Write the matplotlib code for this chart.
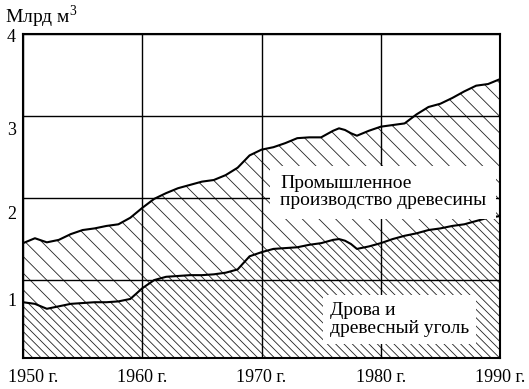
import matplotlib
matplotlib.use("Agg")
import matplotlib.pyplot as plt
import matplotlib.transforms as mtransforms

# world roundwood production, billion m3
years = [1950, 1951, 1952, 1953, 1954, 1955, 1956, 1957, 1958, 1959,
         1960, 1961, 1962, 1963, 1964, 1965, 1966, 1967, 1968, 1969,
         1970, 1971, 1972, 1973, 1974, 1975, 1976, 1976.5, 1977, 1977.5,
         1978, 1979, 1980, 1981, 1982, 1983, 1984, 1985, 1986, 1987,
         1988, 1989, 1990]
total = [1.45, 1.51, 1.46, 1.49, 1.56, 1.61, 1.63, 1.66, 1.68, 1.76,
         1.88, 1.99, 2.06, 2.12, 2.16, 2.20, 2.22, 2.28, 2.37, 2.52,
         2.59, 2.62, 2.67, 2.73, 2.74, 2.74, 2.82, 2.85, 2.83, 2.79,
         2.76, 2.82, 2.87, 2.89, 2.91, 3.02, 3.11, 3.15, 3.22, 3.30,
         3.37, 3.39, 3.45]
fuelwood = [0.73, 0.71, 0.65, 0.68, 0.71, 0.72, 0.73, 0.73, 0.74, 0.77,
            0.90, 1.00, 1.04, 1.05, 1.06, 1.06, 1.07, 1.09, 1.13, 1.29,
            1.34, 1.38, 1.39, 1.40, 1.43, 1.45, 1.49, 1.50, 1.48, 1.44,
            1.38, 1.41, 1.45, 1.50, 1.54, 1.57, 1.61, 1.63, 1.66, 1.68,
            1.72, 1.76, 1.78]

x_ticks = [1950, 1960, 1970, 1980, 1990]
x_labels = ["1950 г.", "1960 г.", "1970 г.", "1980 г.", "1990 г."]
y_grid = [1, 2, 3, 4]
y_label_pos = [0.76, 1.82, 2.85, 3.98]   # printed labels sit below the grid lines
y_labels = ["1", "2", "3", "4"]

plt.rcParams["font.family"] = "Liberation Serif"
plt.rcParams["mathtext.fontset"] = "custom"
plt.rcParams["mathtext.rm"] = "Liberation Serif"
plt.rcParams["hatch.linewidth"] = 0.6
plt.rcParams["hatch.color"] = "black"

fig = plt.figure(figsize=(5.29, 3.89), dpi=100)
ax = fig.add_axes([23 / 529, 31 / 389, 477 / 529, 324 / 389])

ax.fill_between(years, 0, fuelwood, facecolor="white", edgecolor="#222222",
                hatch="\\\\\\\\", linewidth=0)
ax.fill_between(years, fuelwood, total, facecolor="white", edgecolor="#222222",
                hatch="\\\\", linewidth=0)
ax.plot(years, total, color="black", lw=1.5)
ax.plot(years, fuelwood, color="black", lw=1.5)

ax.set_xlim(1950, 1990)
ax.set_ylim(0.05, 4)
ax.set_xticks(x_ticks)
ax.set_xticklabels(x_labels, fontsize=13)
ax.set_yticks(y_grid)
ax.set_yticklabels([])
ax.set_yticks(y_label_pos, minor=True)
ax.set_yticklabels(y_labels, minor=True, fontsize=13)
ax.tick_params(axis="both", which="both", length=0)
ax.tick_params(axis="x", pad=8)
ax.tick_params(axis="y", which="minor", pad=5)
ax.grid(True, which="major", color="black", lw=1.0)
for s in ax.spines.values():
    s.set_linewidth(1.5)

# first year label does not fit centred under the frame
first = ax.get_xticklabels()[0]
first.set_horizontalalignment("left")
first.set_transform(first.get_transform() +
                    mtransforms.ScaledTranslation(-15 / 100, 0, fig.dpi_scale_trans))

ax.text(1971.55, 2.07, "Промышленное\nпроизводство древесины", fontsize=14,
        ha="left", va="center", linespacing=1.0, zorder=5,
        bbox=dict(facecolor="white", edgecolor="none", pad=7))
ax.text(1975.75, 0.52, "Дрова и\nдревесный уголь", fontsize=14,
        ha="left", va="center", linespacing=1.05, zorder=5,
        bbox=dict(facecolor="white", edgecolor="none", pad=5))

fig.text(5 / 529, 1 - 17 / 389, "Млрд м$^3$", fontsize=14, ha="left", va="center")

fig.savefig("out.png", dpi=100)
